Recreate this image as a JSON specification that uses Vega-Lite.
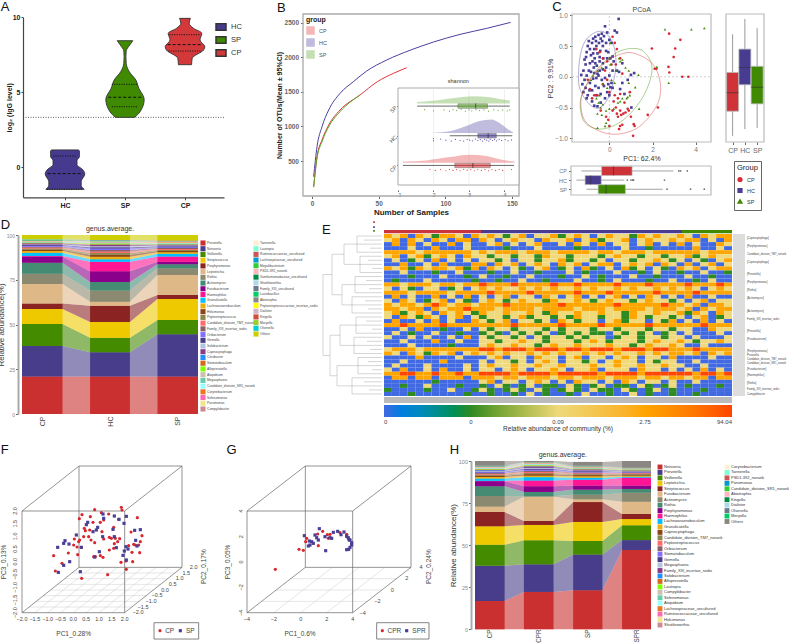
{"$schema":"https://vega.github.io/schema/vega-lite/v6.json","width":789,"height":643,"autosize":{"type":"none"},"padding":0,"background":"white",
"config":{"font":"Liberation Sans","view":{"stroke":null},"axis":{"grid":false,"labelFont":"Liberation Sans","titleFont":"Liberation Sans","domainColor":"#666","tickColor":"#666","labelColor":"#555","titleColor":"#333","tickSize":2.5,"labelFontSize":6.5,"titleFontSize":7.5,"titleFontWeight":"normal","labelPadding":2},"legend":{"labelFont":"Liberation Sans","titleFont":"Liberation Sans"}},
"resolve":{"scale":{"x":"independent","y":"independent","color":"independent","shape":"independent"},"axis":{"x":"independent","y":"independent"},"legend":{"color":"independent","shape":"independent"}},
"datasets":{
"curves":[{"g":"HC","x":1.25,"y":273},{"g":"HC","x":3.75,"y":707},{"g":"HC","x":7.5,"y":996},{"g":"HC","x":12.5,"y":1237},{"g":"HC","x":21,"y":1478},{"g":"HC","x":31,"y":1647},{"g":"HC","x":41,"y":1801},{"g":"HC","x":56,"y":1960},{"g":"HC","x":74,"y":2105},{"g":"HC","x":91,"y":2220},{"g":"HC","x":111,"y":2331},{"g":"HC","x":131,"y":2418},{"g":"HC","x":149,"y":2505},{"g":"CP","x":1.25,"y":129},{"g":"CP","x":3.75,"y":563},{"g":"CP","x":7.5,"y":804},{"g":"CP","x":12.5,"y":1020},{"g":"CP","x":21,"y":1237},{"g":"CP","x":36,"y":1454},{"g":"CP","x":49,"y":1647},{"g":"CP","x":61,"y":1767},{"g":"CP","x":71,"y":1849},{"g":"SP","x":1.25,"y":120},{"g":"SP","x":3.75,"y":539},{"g":"SP","x":7.5,"y":780},{"g":"SP","x":12.5,"y":996},{"g":"SP","x":21,"y":1213},{"g":"SP","x":29,"y":1358},{"g":"SP","x":36,"y":1454}],
"inbox":[{"g":"SP","y":2,"lo":1.54,"q1":2.69,"med":3.19,"q3":3.52,"hi":4.15},{"g":"HC","y":1,"lo":2.46,"q1":3.25,"med":3.54,"q3":3.77,"hi":4.22},{"g":"CP","y":0,"lo":1.14,"q1":2.6,"med":3.11,"q3":3.6,"hi":4.27}],
"pts":[{"g":"HC","x":-1.2,"y":0.1},{"g":"HC","x":-1.15,"y":0.28},{"g":"HC","x":-1.1,"y":0.2},{"g":"HC","x":-1.05,"y":0.4},{"g":"HC","x":-1,"y":0.5},{"g":"HC","x":-0.95,"y":0.58},{"g":"HC","x":-0.9,"y":0.45},{"g":"HC","x":-0.85,"y":0.35},{"g":"HC","x":-0.8,"y":0.55},{"g":"HC","x":-0.78,"y":0.25},{"g":"HC","x":-0.75,"y":0.62},{"g":"HC","x":-0.72,"y":0.15},{"g":"HC","x":-0.7,"y":0.45},{"g":"HC","x":-0.68,"y":0.3},{"g":"HC","x":-0.65,"y":0.65},{"g":"HC","x":-0.6,"y":0.5},{"g":"HC","x":-0.58,"y":0.18},{"g":"HC","x":-0.55,"y":0.38},{"g":"HC","x":-0.5,"y":0.68},{"g":"HC","x":-0.48,"y":0.55},{"g":"HC","x":-0.45,"y":0.25},{"g":"HC","x":-0.42,"y":0.42},{"g":"HC","x":-0.4,"y":0.62},{"g":"HC","x":-0.35,"y":0.7},{"g":"HC","x":-0.3,"y":0.5},{"g":"HC","x":-0.28,"y":0.3},{"g":"HC","x":-0.25,"y":0.66},{"g":"HC","x":-0.2,"y":0.82},{"g":"HC","x":-0.15,"y":0.55},{"g":"HC","x":-0.1,"y":0.72},{"g":"HC","x":-0.05,"y":0.4},{"g":"HC","x":0,"y":0.6},{"g":"HC","x":0.05,"y":0.3},{"g":"HC","x":0.1,"y":0.55},{"g":"HC","x":0.15,"y":0.1},{"g":"HC","x":0.25,"y":0.75},{"g":"HC","x":0.35,"y":0.72},{"g":"HC","x":0.43,"y":0.94},{"g":"HC","x":-1.3,"y":0.03},{"g":"HC","x":-1.25,"y":-0.12},{"g":"HC","x":-1.2,"y":-0.25},{"g":"HC","x":-1.15,"y":-0.05},{"g":"HC","x":-1.1,"y":-0.18},{"g":"HC","x":-1.05,"y":0.02},{"g":"HC","x":-1,"y":-0.3},{"g":"HC","x":-0.95,"y":0.1},{"g":"HC","x":-0.9,"y":-0.1},{"g":"HC","x":-0.85,"y":0.08},{"g":"HC","x":-0.8,"y":-0.22},{"g":"HC","x":-0.75,"y":-0.03},{"g":"HC","x":-0.7,"y":0.06},{"g":"HC","x":-0.65,"y":-0.15},{"g":"HC","x":-0.6,"y":-0.02},{"g":"HC","x":-0.55,"y":0.05},{"g":"HC","x":-0.5,"y":-0.18},{"g":"HC","x":-0.45,"y":0.1},{"g":"HC","x":-0.4,"y":-0.28},{"g":"HC","x":-0.35,"y":-0.05},{"g":"HC","x":-0.3,"y":0.12},{"g":"HC","x":-0.25,"y":-0.15},{"g":"HC","x":-0.2,"y":-0.02},{"g":"HC","x":-0.15,"y":0.15},{"g":"HC","x":-0.1,"y":-0.25},{"g":"HC","x":-0.05,"y":-0.12},{"g":"HC","x":0,"y":0.02},{"g":"HC","x":0.05,"y":-0.17},{"g":"HC","x":0.1,"y":-0.1},{"g":"HC","x":0.15,"y":-0.18},{"g":"HC","x":0.2,"y":0.25},{"g":"HC","x":0.35,"y":0.1},{"g":"HC","x":0.45,"y":0.08},{"g":"HC","x":0.5,"y":-0.2},{"g":"HC","x":0.6,"y":-0.1},{"g":"HC","x":1.15,"y":0.06},{"g":"HC","x":1,"y":0.03},{"g":"HC","x":0.85,"y":-0.05},{"g":"HC","x":-0.1,"y":0.3},{"g":"HC","x":-1.05,"y":-0.35},{"g":"HC","x":-0.8,"y":-0.4},{"g":"HC","x":-0.7,"y":-0.47},{"g":"HC","x":-0.55,"y":-0.48},{"g":"HC","x":-0.6,"y":-0.3},{"g":"HC","x":-0.4,"y":-0.42},{"g":"HC","x":-0.2,"y":-0.35},{"g":"HC","x":0,"y":-0.3},{"g":"HC","x":0.7,"y":-0.28},{"g":"HC","x":0.6,"y":0.22},{"g":"HC","x":1.02,"y":-0.5},{"g":"HC","x":0.15,"y":0.33},{"g":"HC","x":-0.9,"y":0.22},{"g":"HC","x":-0.65,"y":0.22},{"g":"HC","x":-0.45,"y":0.32},{"g":"HC","x":-0.75,"y":0.38},{"g":"HC","x":-1.08,"y":0.32},{"g":"HC","x":-0.5,"y":0.02},{"g":"HC","x":-0.92,"y":-0.22},{"g":"HC","x":-0.3,"y":0.22},{"g":"HC","x":-0.15,"y":0.42},{"g":"HC","x":-0.62,"y":0.58},{"g":"HC","x":-0.33,"y":0.58},{"g":"CP","x":2.77,"y":0.7},{"g":"CP","x":3.29,"y":0.6},{"g":"CP","x":3.05,"y":0.46},{"g":"CP","x":2.98,"y":0.32},{"g":"CP","x":1.97,"y":0.46},{"g":"CP","x":2.18,"y":0.13},{"g":"CP","x":2.1,"y":0.13},{"g":"CP","x":2.74,"y":0.16},{"g":"CP","x":2.78,"y":0.07},{"g":"CP","x":3.38,"y":0},{"g":"CP","x":3.66,"y":0},{"g":"CP","x":2.25,"y":-0.5},{"g":"CP","x":1.78,"y":-0.62},{"g":"CP","x":1.13,"y":-0.77},{"g":"CP","x":1.17,"y":-0.8},{"g":"CP","x":1.1,"y":-0.96},{"g":"CP","x":0.5,"y":-0.8},{"g":"CP","x":-1,"y":-0.05},{"g":"CP","x":-0.9,"y":-0.2},{"g":"CP","x":-0.8,"y":-0.35},{"g":"CP","x":-0.6,"y":0.45},{"g":"CP","x":-0.45,"y":0.4},{"g":"CP","x":-0.3,"y":0.3},{"g":"CP","x":-0.2,"y":0.1},{"g":"CP","x":-0.1,"y":-0.05},{"g":"CP","x":0,"y":-0.25},{"g":"CP","x":0.1,"y":0.2},{"g":"CP","x":0.15,"y":0.65},{"g":"CP","x":0.25,"y":0.55},{"g":"CP","x":0.35,"y":0.45},{"g":"CP","x":0.5,"y":0.3},{"g":"CP","x":0.6,"y":0.05},{"g":"CP","x":0.2,"y":-0.4},{"g":"CP","x":0.3,"y":-0.5},{"g":"CP","x":0.35,"y":-0.6},{"g":"CP","x":0.4,"y":-0.65},{"g":"CP","x":0.5,"y":-0.55},{"g":"CP","x":0.55,"y":-0.62},{"g":"CP","x":0.65,"y":-0.6},{"g":"CP","x":0.75,"y":-0.58},{"g":"CP","x":0.4,"y":-0.35},{"g":"CP","x":0.5,"y":-0.28},{"g":"CP","x":0.7,"y":-0.42},{"g":"CP","x":0.85,"y":-0.52},{"g":"CP","x":0.25,"y":-0.3},{"g":"CP","x":0.15,"y":-0.55},{"g":"CP","x":-0.05,"y":-0.7},{"g":"CP","x":-0.15,"y":-0.65},{"g":"CP","x":0,"y":-0.8},{"g":"CP","x":0.45,"y":-0.85},{"g":"CP","x":0.6,"y":-0.78},{"g":"CP","x":0.9,"y":-0.55},{"g":"CP","x":1,"y":-0.65},{"g":"CP","x":0.95,"y":-0.25},{"g":"CP","x":-0.55,"y":-0.3},{"g":"CP","x":-0.4,"y":-0.55},{"g":"CP","x":-0.7,"y":-0.3},{"g":"CP","x":-0.3,"y":-0.12},{"g":"CP","x":-0.1,"y":0.25},{"g":"CP","x":0.3,"y":0.2},{"g":"SP","x":2.58,"y":0.77},{"g":"SP","x":3.8,"y":0.77},{"g":"SP","x":4.4,"y":0.79},{"g":"SP","x":2.2,"y":0.16},{"g":"SP","x":2.75,"y":-0.1},{"g":"SP","x":1.35,"y":0.03},{"g":"SP","x":0.9,"y":0.1},{"g":"SP","x":1.2,"y":-0.17},{"g":"SP","x":0.95,"y":-0.3},{"g":"SP","x":0.8,"y":-0.35},{"g":"SP","x":1.38,"y":-0.52},{"g":"SP","x":-0.85,"y":-0.05},{"g":"SP","x":-0.75,"y":0.02},{"g":"SP","x":-0.55,"y":0.1},{"g":"SP","x":-0.35,"y":0.15},{"g":"SP","x":0.03,"y":0.55},{"g":"SP","x":0,"y":0.3},{"g":"SP","x":0.05,"y":0.2},{"g":"SP","x":0.3,"y":0.1},{"g":"SP","x":0.5,"y":0.25},{"g":"SP","x":0.6,"y":0.28},{"g":"SP","x":0.75,"y":0.15},{"g":"SP","x":-0.6,"y":-0.35},{"g":"SP","x":-0.5,"y":-0.42},{"g":"SP","x":-0.45,"y":-0.3},{"g":"SP","x":-0.4,"y":-0.5},{"g":"SP","x":-0.55,"y":-0.6},{"g":"SP","x":-0.3,"y":-0.45},{"g":"SP","x":-0.15,"y":-0.55},{"g":"SP","x":0,"y":-0.52},{"g":"SP","x":0.2,"y":-0.52},{"g":"SP","x":0.4,"y":-0.42},{"g":"SP","x":0.6,"y":-0.35},{"g":"SP","x":-0.1,"y":-0.18},{"g":"SP","x":-0.3,"y":-0.12},{"g":"SP","x":0.1,"y":-0.05},{"g":"SP","x":0.25,"y":-0.1},{"g":"SP","x":0.5,"y":-0.4},{"g":"SP","x":-0.35,"y":-0.62},{"g":"SP","x":-0.15,"y":-0.75},{"g":"SP","x":-0.55,"y":-0.83},{"g":"SP","x":-0.2,"y":-0.8},{"g":"SP","x":0.45,"y":0.3},{"g":"SP","x":0.9,"y":-0.1},{"g":"SP","x":0.85,"y":-0.33}],
"dd":[{"i":0,"g":"Prevotella","CP":21,"HC":21,"SP":21},{"i":1,"g":"Neisseria","CP":17,"HC":13.5,"SP":23.5},{"i":2,"g":"Veillonella","CP":12.3,"HC":8.1,"SP":8},{"i":3,"g":"Streptococcus","CP":8.4,"HC":8.8,"SP":11.7},{"i":4,"g":"Porphyromonas","CP":3.1,"HC":9.1,"SP":2.3},{"i":5,"g":"Leptotrichia","CP":10.8,"HC":2.2,"SP":11.1},{"i":6,"g":"Rothia","CP":5.8,"HC":6.3,"SP":3.8},{"i":7,"g":"Actinomyces","CP":6.1,"HC":4.8,"SP":2.2},{"i":8,"g":"Fusobacterium","CP":3.5,"HC":6,"SP":1.4},{"i":9,"g":"Haemophilus","CP":0.3,"HC":5.2,"SP":3},{"i":10,"g":"Granulicatella","CP":1.8,"HC":1.5,"SP":1.5},{"i":11,"g":"Lachnoanaerobaculum","CP":1,"HC":1.3,"SP":0.8},{"i":12,"g":"Helcimonas","CP":0.7,"HC":1.2,"SP":0.7},{"i":13,"g":"Peptostreptococcus","CP":0.6,"HC":0.9,"SP":0.6},{"i":14,"g":"Candidate_division_TM7_norank","CP":0.6,"HC":0.9,"SP":0.6},{"i":15,"g":"Family_XIII_incertae_sedis","CP":0.5,"HC":0.8,"SP":0.5},{"i":16,"g":"Oribacterium","CP":0.5,"HC":0.8,"SP":0.5},{"i":17,"g":"Gemella","CP":0.4,"HC":0.8,"SP":0.5},{"i":18,"g":"Solobacterium","CP":0.3,"HC":0.5,"SP":0.4},{"i":19,"g":"Capnocytophaga","CP":0.4,"HC":0.7,"SP":0.4},{"i":20,"g":"Citrobacter","CP":0.2,"HC":0.2,"SP":0.2},{"i":21,"g":"Stomatobaculum","CP":0.2,"HC":0.3,"SP":0.2},{"i":22,"g":"Alloprevotella","CP":0.2,"HC":0.3,"SP":0.2},{"i":23,"g":"Atopobium","CP":0.15,"HC":0.2,"SP":0.15},{"i":24,"g":"Megasphaera","CP":0.2,"HC":0.2,"SP":0.2},{"i":25,"g":"Candidate_division_SR1_norank","CP":0.2,"HC":0.2,"SP":0.15},{"i":26,"g":"Corynebacterium","CP":0.15,"HC":0.15,"SP":0.2},{"i":27,"g":"Selenomonas","CP":0.15,"HC":0.15,"SP":0.15},{"i":28,"g":"Parvimonas","CP":0.12,"HC":0.12,"SP":0.12},{"i":29,"g":"Campylobacter","CP":0.12,"HC":0.12,"SP":0.12},{"i":30,"g":"Tannerella","CP":0.05,"HC":0.05,"SP":0.05},{"i":31,"g":"Lautropia","CP":0.05,"HC":0.05,"SP":0.05},{"i":32,"g":"Ruminococcaceae_uncultured","CP":0.05,"HC":0.05,"SP":0.05},{"i":33,"g":"Lachnospiraceae_uncultured","CP":0.05,"HC":0.05,"SP":0.05},{"i":34,"g":"Megalibacterium","CP":0.05,"HC":0.05,"SP":0.05},{"i":35,"g":"PSD1-392_norank","CP":0.05,"HC":0.05,"SP":0.05},{"i":36,"g":"Xanthomonadaceae_uncultured","CP":0.05,"HC":0.05,"SP":0.05},{"i":37,"g":"Shuttleworthia","CP":0.05,"HC":0.05,"SP":0.05},{"i":38,"g":"Family_XIII_uncultured","CP":0.05,"HC":0.05,"SP":0.05},{"i":39,"g":"Lactobacillus","CP":0.05,"HC":0.05,"SP":0.05},{"i":40,"g":"Abiotrophia","CP":0.05,"HC":0.05,"SP":0.05},{"i":41,"g":"Peptostreptococcaceae_incertae_sedis","CP":0.05,"HC":0.05,"SP":0.05},{"i":42,"g":"Dialister","CP":0.05,"HC":0.05,"SP":0.05},{"i":43,"g":"Kingella","CP":0.05,"HC":0.05,"SP":0.05},{"i":44,"g":"Moryella","CP":0.05,"HC":0.05,"SP":0.05},{"i":45,"g":"Olsenella","CP":0.05,"HC":0.05,"SP":0.05},{"i":46,"g":"Others","CP":3,"HC":3,"SP":3}],
"hh":[{"i":0,"g":"Neisseria","CP":16.8,"CPR":22.2,"SP":23.2,"SPR":47.1},{"i":1,"g":"Prevotella","CP":21,"CPR":16.4,"SP":21.2,"SPR":5.9},{"i":2,"g":"Veillonella","CP":12.5,"CPR":14.3,"SP":8.1,"SPR":8.8},{"i":3,"g":"Leptotrichia","CP":10.9,"CPR":9.1,"SP":11.3,"SPR":3.7},{"i":4,"g":"Streptococcus","CP":8.5,"CPR":2.4,"SP":11.8,"SPR":3},{"i":5,"g":"Fusobacterium","CP":3.2,"CPR":14.4,"SP":1.6,"SPR":7.3},{"i":6,"g":"Actinomyces","CP":6.3,"CPR":0.2,"SP":2.8,"SPR":5.4},{"i":7,"g":"Rothia","CP":5.8,"CPR":2.6,"SP":3,"SPR":2.2},{"i":8,"g":"Porphyromonas","CP":3,"CPR":3.4,"SP":2.4,"SPR":2},{"i":9,"g":"Haemophilus","CP":0.2,"CPR":3.4,"SP":3.5,"SPR":4.7},{"i":10,"g":"Lachnoanaerobaculum","CP":1.4,"CPR":2,"SP":1.2,"SPR":0.6},{"i":11,"g":"Granulicatella","CP":0.9,"CPR":0.9,"SP":0.8,"SPR":0.6},{"i":12,"g":"Capnocytophaga","CP":0.8,"CPR":0.9,"SP":0.7,"SPR":0.6},{"i":13,"g":"Candidate_division_TM7_norank","CP":0.6,"CPR":0.6,"SP":0.6,"SPR":0.4},{"i":14,"g":"Peptostreptococcus","CP":0.5,"CPR":0.7,"SP":0.5,"SPR":0.4},{"i":15,"g":"Oribacterium","CP":0.5,"CPR":0.7,"SP":0.5,"SPR":0.35},{"i":16,"g":"Stomatobaculum","CP":0.4,"CPR":0.6,"SP":0.4,"SPR":0.3},{"i":17,"g":"Gemella","CP":0.4,"CPR":0.6,"SP":0.4,"SPR":0.3},{"i":18,"g":"Megasphaera","CP":0.4,"CPR":0.5,"SP":0.3,"SPR":0.25},{"i":19,"g":"Family_XIII_incertae_sedis","CP":0.3,"CPR":0.5,"SP":0.3,"SPR":0.25},{"i":20,"g":"Solobacterium","CP":0.3,"CPR":0.4,"SP":0.3,"SPR":0.2},{"i":21,"g":"Alloprevotella","CP":0.3,"CPR":0.4,"SP":0.3,"SPR":0.2},{"i":22,"g":"Lautropia","CP":0.2,"CPR":0.3,"SP":0.2,"SPR":0.2},{"i":23,"g":"Campylobacter","CP":0.2,"CPR":0.3,"SP":0.2,"SPR":0.15},{"i":24,"g":"Selenomonas","CP":0.2,"CPR":0.2,"SP":0.2,"SPR":0.15},{"i":25,"g":"Atopobium","CP":0.2,"CPR":0.2,"SP":0.15,"SPR":0.1},{"i":26,"g":"Lachnospiraceae_uncultured","CP":0.15,"CPR":0.2,"SP":0.15,"SPR":0.1},{"i":27,"g":"Ruminococcaceae_uncultured","CP":0.15,"CPR":0.15,"SP":0.15,"SPR":0.1},{"i":28,"g":"Helcimonas","CP":0.1,"CPR":0.15,"SP":0.1,"SPR":0.1},{"i":29,"g":"Shuttleworthia","CP":0.1,"CPR":0.1,"SP":0.1,"SPR":0.1},{"i":30,"g":"Corynebacterium","CP":0.1,"CPR":0.05,"SP":0.08,"SPR":0.05},{"i":31,"g":"Tannerella","CP":0.1,"CPR":0.05,"SP":0.08,"SPR":0.05},{"i":32,"g":"PSD1-392_norank","CP":0.1,"CPR":0.05,"SP":0.08,"SPR":0.05},{"i":33,"g":"Parvimonas","CP":0.1,"CPR":0.05,"SP":0.08,"SPR":0.05},{"i":34,"g":"Candidate_division_SR1_norank","CP":0.1,"CPR":0.05,"SP":0.08,"SPR":0.05},{"i":35,"g":"Abiotrophia","CP":0.1,"CPR":0.05,"SP":0.08,"SPR":0.05},{"i":36,"g":"Kingella","CP":0.1,"CPR":0.05,"SP":0.08,"SPR":0.05},{"i":37,"g":"Dialister","CP":0.1,"CPR":0.05,"SP":0.08,"SPR":0.05},{"i":38,"g":"Olsenella","CP":0.1,"CPR":0.05,"SP":0.08,"SPR":0.05},{"i":39,"g":"Moryella","CP":0.1,"CPR":0.05,"SP":0.08,"SPR":0.05},{"i":40,"g":"Others","CP":2.8,"CPR":1.05,"SP":2.2,"SPR":4.2}],
"heat":[{"r":0,"v":[3,2,3,0,3,2,1,3,3,2,0,3,2,3,2,1,2,3,0,2,2,3,1,2,3,2,0,2,3,2,2,1,3,2,3,2,2,3,2,0,3,2,3,3]},{"r":1,"v":[2,3,0,3,2,0,3,2,0,3,3,0,3,2,0,2,3,2,2,0,3,2,2,3,0,2,3,1,2,2,3,0,2,3,2,2,3,2,3,3,0,2,0,3]},{"r":2,"v":[0,3,0,3,0,2,0,0,3,0,2,0,0,2,3,0,2,0,2,3,0,0,2,0,3,2,0,3,0,2,2,0,2,3,0,2,0,3,0,2,0,0,3,2]},{"r":3,"v":[0,0,0,2,0,0,3,0,0,0,2,0,0,0,0,1,0,0,0,2,0,0,0,0,1,0,0,0,0,0,2,0,0,1,0,0,0,0,0,3,0,0,2,0]},{"r":4,"v":[3,3,3,3,2,3,3,3,3,3,3,2,3,2,3,3,3,2,3,3,3,2,3,3,3,3,2,3,3,2,3,3,3,2,3,3,3,3,3,3,2,3,3,3]},{"r":5,"v":[2,3,0,2,3,1,2,3,2,0,3,2,2,1,2,2,1,2,2,1,3,2,2,1,2,2,2,1,2,3,2,2,1,2,2,1,2,2,3,1,2,3,2,2]},{"r":6,"v":[0,2,0,1,2,0,3,0,2,0,2,0,2,2,1,2,0,2,2,1,2,2,3,1,2,2,1,2,0,2,2,1,2,2,3,2,1,2,0,2,1,0,2,3]},{"r":7,"v":[0,0,3,0,0,2,0,3,0,0,0,3,3,0,3,2,3,0,2,3,2,0,3,2,3,0,2,3,3,0,2,3,2,3,0,3,2,0,3,0,2,3,0,2]},{"r":8,"v":[3,2,3,1,3,2,3,3,2,3,1,3,0,3,2,0,2,1,0,2,3,0,1,2,0,3,1,0,2,0,3,1,2,0,2,1,0,3,2,3,0,2,3,3]},{"r":9,"v":[0,0,2,0,0,0,1,0,0,2,0,0,0,1,0,0,2,0,0,1,0,0,0,2,0,1,0,0,0,2,0,0,1,0,2,0,0,1,0,0,2,0,0,1]},{"r":10,"v":[0,0,0,1,0,0,0,2,0,0,1,0,2,0,0,1,0,0,2,0,0,0,1,0,0,2,0,1,0,0,0,2,0,0,1,0,0,0,2,0,0,1,0,0]},{"r":11,"v":[0,1,0,0,0,2,0,0,0,0,0,1,0,0,1,0,0,2,0,0,1,0,0,0,2,0,0,1,0,2,0,0,0,1,0,0,2,0,0,1,0,2,0,0]},{"r":12,"v":[3,3,2,3,3,3,2,3,3,2,3,3,4,3,3,3,4,3,3,3,3,4,3,3,4,3,3,3,3,4,3,3,3,4,3,3,3,3,4,3,3,3,4,3]},{"r":13,"v":[2,0,2,1,0,2,2,0,1,2,0,2,3,2,3,2,2,3,2,3,2,3,2,2,3,2,3,2,2,3,2,3,2,2,3,2,3,2,3,2,0,2,3,2]},{"r":14,"v":[3,3,3,2,3,3,3,3,2,3,3,3,3,4,3,3,3,3,4,3,3,3,3,3,4,3,3,3,4,3,3,3,3,3,4,3,3,3,3,4,3,3,3,3]},{"r":15,"v":[0,3,0,2,0,0,3,0,2,0,3,0,2,0,2,3,0,2,2,0,3,2,0,2,3,0,2,0,2,3,0,2,0,3,2,0,2,0,3,0,0,2,0,0]},{"r":16,"v":[2,0,3,2,0,1,2,3,0,2,1,0,2,3,2,1,2,3,2,2,1,3,2,2,3,2,1,2,3,2,2,1,2,3,2,2,1,2,0,2,3,0,2,2]},{"r":17,"v":[3,2,3,3,2,3,4,3,2,3,3,2,3,3,3,4,3,3,3,3,3,3,4,3,3,3,3,3,3,4,3,3,3,3,3,4,3,3,2,3,0,3,3,2]},{"r":18,"v":[3,3,2,3,3,0,3,2,3,3,4,3,3,3,2,3,3,3,3,2,3,3,3,3,2,3,3,3,2,3,3,3,3,2,3,3,3,2,3,0,3,2,3,3]},{"r":19,"v":[2,3,1,2,3,2,0,3,2,3,2,1,3,2,2,3,2,2,3,2,1,3,2,2,3,2,2,3,2,2,1,3,2,2,3,2,2,3,1,3,2,0,3,2]},{"r":20,"v":[2,0,3,2,1,3,2,0,2,3,0,2,1,2,2,1,2,3,1,2,2,1,2,1,3,2,2,1,2,2,1,3,2,1,2,2,1,2,0,2,3,0,1,2]},{"r":21,"v":[0,3,0,0,2,0,3,0,2,0,0,3,2,1,2,3,0,2,2,1,2,0,3,2,1,2,2,0,2,3,1,2,2,0,2,1,3,0,2,0,3,0,2,0]},{"r":22,"v":[3,3,4,3,3,3,3,4,3,3,3,3,3,3,3,3,4,3,3,3,3,3,4,3,3,3,3,4,3,3,3,3,3,4,3,3,3,3,3,3,4,3,3,3]},{"r":23,"v":[0,0,2,0,3,0,0,1,0,0,2,0,2,1,2,2,1,2,2,2,1,2,1,2,2,2,1,2,2,1,2,2,2,1,2,2,1,2,2,0,0,3,2,2]},{"r":24,"v":[0,2,0,1,0,0,2,0,0,1,0,0,1,2,1,0,2,1,2,1,2,0,1,2,1,2,1,1,0,2,1,2,1,2,0,1,2,0,2,0,0,0,2,0]},{"r":25,"v":[2,0,0,2,0,2,0,0,2,0,3,0,2,1,2,2,1,2,0,2,1,2,2,1,2,1,2,2,0,1,2,2,1,2,2,1,2,2,0,2,0,0,0,2]},{"r":26,"v":[0,0,2,0,0,0,3,0,0,2,0,0,2,2,1,2,2,3,2,2,1,2,2,2,1,2,3,2,1,2,2,2,1,2,3,2,2,3,2,1,2,2,3,2]},{"r":27,"v":[0,0,0,2,0,0,0,0,1,0,0,0,2,3,2,2,3,2,2,1,2,3,2,2,3,2,2,2,3,2,2,1,2,3,2,2,3,2,0,0,2,0,0,0]},{"r":28,"v":[2,3,3,3,2,3,3,3,3,3,3,3,4,4,3,4,4,4,3,4,4,4,3,4,4,3,4,4,4,3,4,4,4,3,4,4,3,3,3,4,3,3,3,3]},{"r":29,"v":[3,2,0,3,2,1,3,2,3,0,2,3,2,3,2,3,2,2,3,2,3,2,3,2,2,3,2,3,2,3,2,2,3,2,3,2,3,3,2,3,0,3,2,3]},{"r":30,"v":[0,0,0,0,3,0,0,0,0,2,0,0,0,2,3,0,2,2,0,3,2,2,0,2,3,0,2,2,0,2,3,2,0,2,2,0,3,0,0,0,0,2,0,0]},{"r":31,"v":[0,0,2,0,0,0,0,3,0,0,0,0,2,0,2,2,1,2,0,2,3,2,0,2,2,1,2,0,2,3,2,2,0,2,1,2,2,0,0,2,0,0,0,0]},{"r":32,"v":[0,2,0,0,0,2,0,0,0,0,2,0,2,3,2,2,3,2,2,3,2,2,3,2,2,2,3,2,2,3,2,2,3,2,2,3,2,2,0,0,2,0,0,0]},{"r":33,"v":[2,0,3,0,0,2,0,3,0,0,2,0,2,2,0,2,3,2,0,2,2,3,2,0,2,2,3,0,2,2,2,0,3,2,2,0,2,0,2,0,3,0,2,0]},{"r":34,"v":[3,3,4,4,3,3,4,3,3,4,3,3,4,4,4,4,3,4,4,4,4,3,4,4,4,4,4,3,4,4,4,4,3,4,4,4,4,4,4,3,4,4,3,4]},{"r":35,"v":[0,3,3,0,3,3,0,3,3,3,0,3,3,3,2,3,3,2,3,3,3,2,3,3,2,3,3,3,2,3,3,3,2,3,3,2,3,3,2,3,3,0,3,3]},{"r":36,"v":[0,0,0,0,0,0,1,0,0,0,0,0,2,3,0,2,2,0,2,3,2,0,2,0,3,2,2,0,2,0,3,2,0,2,2,0,2,0,0,2,0,0,0,0]},{"r":37,"v":[0,0,1,0,0,2,0,0,0,1,0,0,1,0,2,1,0,1,2,0,1,1,0,2,1,0,1,2,0,1,1,0,2,1,0,1,2,0,1,0,0,0,1,0]},{"r":38,"v":[1,0,0,0,0,1,0,0,2,0,0,1,2,1,0,1,2,1,0,2,1,0,1,2,1,0,2,1,1,0,2,1,0,1,2,0,1,0,0,0,1,0,0,0]},{"r":39,"v":[0,0,0,1,0,0,0,0,0,0,1,0,0,1,0,0,1,0,2,0,1,0,0,1,0,2,0,0,1,0,0,2,0,1,0,0,1,0,0,1,0,0,0,0]}]
},
"layer":[
{"encoding":{"x":{"field":"x","type":"quantitative","scale":{"domain":[-0.7,2.65],"range":[23,224],"nice":false},"axis":{"orient":"bottom","offset":-445.7,"values":[0,1,2],"labelExpr":"datum.value==0?'HC':datum.value==1?'SP':'CP'","title":null,"labelFontWeight":"bold","labelColor":"#222","labelFontSize":7,"domainColor":"#444","domainWidth":1.2,"tickColor":"#444"}},"y":{"field":"y","type":"quantitative","scale":{"domain":[-2,10],"range":[197.3,17.3],"nice":false},"axis":{"orient":"left","offset":-23,"values":[0,5,10],"title":"log₂ (IgG level)","titleFontWeight":"bold","titleFontSize":7,"titleColor":"#222","titlePadding":0,"tickSize":2,"labelPadding":1,"labelFontWeight":"bold","labelColor":"#222","labelFontSize":7,"domainColor":"#444","domainWidth":1.2,"tickColor":"#444"}}},
"layer":[
{"data":{"values":[{"x":-0.7,"x2":2.65,"y":3.33}]},"mark":{"type":"rule","strokeDash":[1,1.5],"strokeWidth":0.8,"color":"#333"},"encoding":{"x2":{"field":"x2"}}},
{"data":{"values":[{"g":"HC","y":-1.47,"x":-0.32,"x2":0.32},{"g":"HC","y":-1.2,"x":-0.27,"x2":0.27},{"g":"HC","y":-0.96,"x":-0.27,"x2":0.27},{"g":"HC","y":-0.44,"x":-0.33,"x2":0.33},{"g":"HC","y":-0.1,"x":-0.28,"x2":0.28},{"g":"HC","y":0.16,"x":-0.2,"x2":0.2},{"g":"HC","y":0.45,"x":-0.2,"x2":0.2},{"g":"HC","y":0.71,"x":-0.24,"x2":0.24},{"g":"HC","y":1.1,"x":-0.24,"x2":0.24},{"g":"HC","y":1.16,"x":-0.22,"x2":0.22},{"g":"SP","y":3.33,"x":0.84,"x2":1.16},{"g":"SP","y":3.7,"x":0.75,"x2":1.25},{"g":"SP","y":4.53,"x":0.68,"x2":1.32},{"g":"SP","y":5.27,"x":0.77,"x2":1.23},{"g":"SP","y":5.82,"x":0.82,"x2":1.18},{"g":"SP","y":6.38,"x":0.93,"x2":1.07},{"g":"SP","y":6.93,"x":0.98,"x2":1.02},{"g":"SP","y":7.38,"x":0.985,"x2":1.015},{"g":"SP","y":7.76,"x":0.98,"x2":1.02},{"g":"SP","y":8.16,"x":0.92,"x2":1.08},{"g":"SP","y":8.44,"x":0.87,"x2":1.13},{"g":"CP","y":6.84,"x":1.89,"x2":2.11},{"g":"CP","y":7.27,"x":1.88,"x2":2.12},{"g":"CP","y":7.82,"x":1.69,"x2":2.31},{"g":"CP","y":8.04,"x":1.67,"x2":2.33},{"g":"CP","y":8.49,"x":1.75,"x2":2.25},{"g":"CP","y":8.93,"x":1.72,"x2":2.28},{"g":"CP","y":9.27,"x":1.86,"x2":2.14},{"g":"CP","y":9.6,"x":1.93,"x2":2.07},{"g":"CP","y":9.93,"x":1.91,"x2":2.09}]},"mark":{"type":"area","orient":"horizontal","interpolate":"monotone","stroke":"#333","strokeWidth":0.9},"encoding":{"x2":{"field":"x2"},"color":{"field":"g","type":"nominal","scale":{"domain":["HC","SP","CP"],"range":["#463A8E","#3F8A00","#D3393B"]},"legend":{"orient":"none","legendX":215,"legendY":21,"title":null,"symbolType":"M-1,-0.65H1V0.65H-1Z","symbolSize":100,"labelFontSize":7.5,"labelColor":"#333","rowPadding":-1.5,"labelOffset":4}}}},
{"data":{"values":[{"x":-0.29,"x2":0.29,"y":-0.42},{"x":0.72,"x2":1.28,"y":4.67},{"x":1.71,"x2":2.29,"y":8.18}]},"mark":{"type":"rule","strokeDash":[3,2],"strokeWidth":1,"color":"#111"},"encoding":{"x2":{"field":"x2"}}},
{"data":{"values":[{"x":-0.3,"x2":0.3,"y":-1.47},{"x":-0.2,"x2":0.2,"y":0.75},{"x":0.78,"x2":1.22,"y":4.04},{"x":0.78,"x2":1.22,"y":5.53},{"x":1.72,"x2":2.28,"y":7.75},{"x":1.74,"x2":2.26,"y":8.84}]},"mark":{"type":"rule","strokeDash":[1.2,1.2],"strokeWidth":0.9,"color":"#111"},"encoding":{"x2":{"field":"x2"}}}
]},
{"encoding":{"x":{"field":"x","type":"quantitative","scale":{"domain":[-6.75,155.25],"range":[303,519],"nice":false},"axis":{"orient":"bottom","offset":-447,"values":[0,50,100,150],"title":"Number of Samples","titleFontWeight":"bold","titleColor":"#222","titleFontSize":8,"titlePadding":1,"labelFontWeight":"bold","labelColor":"#666","domain":false}},"y":{"field":"y","type":"quantitative","scale":{"domain":[-6,2626],"range":[196,14],"nice":false},"axis":{"orient":"left","offset":-303,"values":[500,1000,1500,2000,2500],"format":"d","title":"Number of OTUs(Mean ± 95%CI)","titleFontWeight":"bold","titleColor":"#222","titleFontSize":7,"titlePadding":2,"labelFontWeight":"bold","labelColor":"#666","domain":false}},"color":{"field":"g","type":"nominal","scale":{"domain":["CP","HC","SP"],"range":["#E0353A","#4B3FA0","#5BA52B"]},"legend":null}},
"layer":[
{"data":{"values":[{"x":-6.75,"x2":155.25,"y":-6,"y2":2626}]},"mark":{"type":"rect","fill":"transparent","stroke":"#aaa","strokeWidth":1.3},"encoding":{"x2":{"field":"x2"},"y2":{"field":"y2"},"color":{"value":"transparent"}}},
{"data":{"name":"curves"},"mark":{"type":"area","opacity":0.35,"orient":"vertical"},"encoding":{"y2":{"field":"y"},"color":{"field":"g","type":"nominal","legend":{"orient":"none","legendX":306,"legendY":16,"title":"group","titleFontSize":7,"titleFontWeight":"bold","titleColor":"#222","symbolType":"square","symbolSize":50,"labelFontSize":5.5,"labelColor":"#555","rowPadding":-6,"titlePadding":3}}}},
{"data":{"name":"curves"},"mark":{"type":"line","interpolate":"monotone","strokeWidth":1}}
]},
{"encoding":{"x":{"field":"x","type":"quantitative","scale":{"domain":[1,4.41],"range":[398,519],"nice":false},"axis":{"orient":"bottom","offset":-453,"values":[1,2,3,4],"title":null,"labelFontSize":5.5,"domain":false,"tickSize":1.5,"labelPadding":1}},"y":{"field":"y","type":"quantitative","scale":{"domain":[-0.66,2.61],"range":[190,83],"nice":false},"axis":{"orient":"left","offset":-398,"values":[0,1,2],"labelExpr":"datum.value==0?'CP':datum.value==1?'HC':'SP'","labelAngle":-45,"title":null,"labelFontSize":5.5,"domain":false,"tickSize":1.5,"labelPadding":1}},"color":{"field":"g","type":"nominal","scale":{"domain":["CP","HC","SP"],"range":["#E0353A","#4B3FA0","#5BA52B"]},"legend":null}},
"layer":[
{"data":{"values":[{"x":1,"x2":4.41,"y":-0.66,"y2":2.61}]},"mark":{"type":"rect","fill":"white","stroke":"#aaa","strokeWidth":1},"encoding":{"x2":{"field":"x2"},"y2":{"field":"y2"},"color":{"value":"white"}}},
{"data":{"values":[{"x":2,"y":-0.66,"y2":2.61},{"x":3,"y":-0.66,"y2":2.61},{"x":4,"y":-0.66,"y2":2.61}]},"mark":{"type":"rule","color":"#e4e4e4","strokeWidth":0.6},"encoding":{"y2":{"field":"y2"},"color":{"value":"#e4e4e4"}}},
{"data":{"values":[{"g":"SP","x":1.54,"y":2.14,"y2":2.09},{"g":"SP","x":2.08,"y":2.19,"y2":2.09},{"g":"SP","x":2.64,"y":2.28,"y2":2.09},{"g":"SP","x":3.11,"y":2.33,"y2":2.09},{"g":"SP","x":3.58,"y":2.3,"y2":2.09},{"g":"SP","x":3.86,"y":2.24,"y2":2.09},{"g":"SP","x":4.15,"y":2.19,"y2":2.09},{"g":"HC","x":1.99,"y":1.1,"y2":1.09},{"g":"HC","x":2.46,"y":1.15,"y2":1.09},{"g":"HC","x":2.92,"y":1.33,"y2":1.09},{"g":"HC","x":3.3,"y":1.5,"y2":1.09},{"g":"HC","x":3.63,"y":1.55,"y2":1.09},{"g":"HC","x":3.86,"y":1.43,"y2":1.09},{"g":"HC","x":4.1,"y":1.22,"y2":1.09},{"g":"HC","x":4.24,"y":1.12,"y2":1.09},{"g":"CP","x":1.14,"y":0.13,"y2":0.09},{"g":"CP","x":1.8,"y":0.17,"y2":0.09},{"g":"CP","x":2.46,"y":0.28,"y2":0.09},{"g":"CP","x":3.02,"y":0.36,"y2":0.09},{"g":"CP","x":3.49,"y":0.32,"y2":0.09},{"g":"CP","x":3.86,"y":0.21,"y2":0.09},{"g":"CP","x":4.29,"y":0.12,"y2":0.09}]},"mark":{"type":"area","orient":"vertical","opacity":0.35,"interpolate":"monotone"},"encoding":{"y2":{"field":"y2"}}},
{"data":{"name":"inbox"},"mark":{"type":"rule","strokeWidth":0.8,"color":"#444"},"encoding":{"x":{"field":"lo","type":"quantitative"},"x2":{"field":"hi"},"color":{"value":"#444"}}},
{"data":{"name":"inbox"},"mark":{"type":"bar","orient":"horizontal","size":4.5,"stroke":"#333","strokeWidth":0.6,"opacity":0.6},"encoding":{"x":{"field":"q1","type":"quantitative"},"x2":{"field":"q3"}}},
{"data":{"name":"inbox"},"mark":{"type":"tick","orient":"vertical","size":5,"thickness":0.9,"color":"#222"},"encoding":{"x":{"field":"med","type":"quantitative"},"color":{"value":"#222"}}},
{"data":{"values":[{"g":"SP","x":1.75,"y":1.88},{"g":"SP","x":2,"y":1.84},{"g":"SP","x":2.3,"y":1.87},{"g":"SP","x":2.45,"y":1.83},{"g":"SP","x":2.55,"y":1.88},{"g":"SP","x":2.65,"y":1.85},{"g":"SP","x":2.78,"y":1.89},{"g":"SP","x":2.9,"y":1.83},{"g":"SP","x":3,"y":1.87},{"g":"SP","x":3.08,"y":1.84},{"g":"SP","x":3.2,"y":1.88},{"g":"SP","x":3.3,"y":1.85},{"g":"SP","x":3.42,"y":1.87},{"g":"SP","x":3.55,"y":1.83},{"g":"SP","x":3.7,"y":1.88},{"g":"SP","x":3.82,"y":1.85},{"g":"SP","x":3.95,"y":1.87},{"g":"SP","x":4.08,"y":1.84},{"g":"SP","x":4.15,"y":1.87},{"g":"HC","x":2,"y":0.9},{"g":"HC","x":2,"y":0.83},{"g":"HC","x":2.2,"y":0.89},{"g":"HC","x":2.35,"y":0.85},{"g":"HC","x":2.5,"y":0.82},{"g":"HC","x":2.62,"y":0.88},{"g":"HC","x":2.75,"y":0.84},{"g":"HC","x":2.85,"y":0.82},{"g":"HC","x":2.95,"y":0.88},{"g":"HC","x":3.02,"y":0.85},{"g":"HC","x":3.1,"y":0.83},{"g":"HC","x":3.18,"y":0.89},{"g":"HC","x":3.25,"y":0.84},{"g":"HC","x":3.32,"y":0.87},{"g":"HC","x":3.38,"y":0.82},{"g":"HC","x":3.44,"y":0.88},{"g":"HC","x":3.5,"y":0.85},{"g":"HC","x":3.56,"y":0.82},{"g":"HC","x":3.6,"y":0.88},{"g":"HC","x":3.66,"y":0.84},{"g":"HC","x":3.72,"y":0.87},{"g":"HC","x":3.78,"y":0.83},{"g":"HC","x":3.85,"y":0.88},{"g":"HC","x":3.92,"y":0.84},{"g":"HC","x":4.02,"y":0.87},{"g":"HC","x":4.1,"y":0.83},{"g":"HC","x":4.2,"y":0.86},{"g":"CP","x":1.9,"y":-0.13},{"g":"CP","x":2.05,"y":-0.17},{"g":"CP","x":2.2,"y":-0.14},{"g":"CP","x":2.35,"y":-0.18},{"g":"CP","x":2.45,"y":-0.13},{"g":"CP","x":2.55,"y":-0.17},{"g":"CP","x":2.65,"y":-0.14},{"g":"CP","x":2.75,"y":-0.18},{"g":"CP","x":2.85,"y":-0.13},{"g":"CP","x":2.95,"y":-0.16},{"g":"CP","x":3.05,"y":-0.13},{"g":"CP","x":3.15,"y":-0.18},{"g":"CP","x":3.25,"y":-0.14},{"g":"CP","x":3.35,"y":-0.17},{"g":"CP","x":3.45,"y":-0.13},{"g":"CP","x":3.55,"y":-0.18},{"g":"CP","x":3.65,"y":-0.14},{"g":"CP","x":3.75,"y":-0.17},{"g":"CP","x":3.85,"y":-0.13},{"g":"CP","x":3.95,"y":-0.17},{"g":"CP","x":4.2,"y":-0.14}]},"mark":{"type":"point","filled":true,"size":1.5,"opacity":0.9}},
{"data":{"values":[{"x":2.7,"y":2.83,"t":"shannon"}]},"mark":{"type":"text","fontSize":5.5,"color":"#333"},"encoding":{"text":{"field":"t"},"color":{"value":"#333"}}}
]},
{"encoding":{"x":{"field":"x","type":"quantitative","scale":{"domain":[-1.73,4.71],"range":[572,711],"nice":false},"axis":{"orient":"bottom","offset":-501,"values":[0,2,4],"title":"PC1: 62.4%","titlePadding":1,"titleFontSize":7,"labelColor":"#777","domain":false}},"y":{"field":"y","type":"quantitative","scale":{"domain":[-1.06,1.02],"range":[142,14],"nice":false},"axis":{"orient":"left","offset":-572,"values":[-1,-0.5,0,0.5,1],"format":".1f","title":"PC2 : 9.91%","titlePadding":1,"titleFontSize":7,"labelColor":"#777","domain":false}}},
"layer":[
{"data":{"values":[{"x":-1.73,"x2":4.71,"y":-1.06,"y2":1.02}]},"mark":{"type":"rect","fill":"transparent","stroke":"#bbb","strokeWidth":1.2},"encoding":{"x2":{"field":"x2"},"y2":{"field":"y2"}}},
{"data":{"values":[{"x":-1.73,"x2":4.71,"y":0}]},"mark":{"type":"rule","strokeDash":[2,2],"color":"#bbb","strokeWidth":0.7},"encoding":{"x2":{"field":"x2"}}},
{"data":{"values":[{"x":0,"y":-1.06,"y2":1.02}]},"mark":{"type":"rule","strokeDash":[2,2],"color":"#bbb","strokeWidth":0.7},"encoding":{"y2":{"field":"y2"}}},
{"data":{"name":"pts"},"mark":{"type":"point","filled":true,"size":7,"opacity":1},"encoding":{"color":{"field":"g","type":"nominal","scale":{"domain":["CP","HC","SP"],"range":["#D62B35","#4A3F97","#3F8A00"]},"legend":{"orient":"none","legendX":734,"legendY":161,"title":"Group","titleFontSize":7.5,"titleFontWeight":"normal","titleColor":"#222","labelFontSize":5.5,"labelColor":"#333","symbolSize":14,"strokeColor":"#666","padding":3,"rowPadding":1}},"shape":{"field":"g","type":"nominal","scale":{"domain":["CP","HC","SP"],"range":["circle","square","triangle-up"]},"legend":{"orient":"none","legendX":734,"legendY":161,"title":"Group","titleFontSize":7.5,"titleFontWeight":"normal","titleColor":"#222","labelFontSize":5.5,"labelColor":"#333","symbolSize":14,"strokeColor":"#666","padding":3,"rowPadding":1}}}},
{"data":{"values":[{"g":"HC","i":0,"x":-1.43,"y":0.01},{"g":"HC","i":1,"x":-1.35,"y":0.34},{"g":"HC","i":2,"x":-1.12,"y":0.58},{"g":"HC","i":3,"x":-0.66,"y":0.72},{"g":"HC","i":4,"x":-0.2,"y":0.72},{"g":"HC","i":5,"x":0.18,"y":0.53},{"g":"HC","i":6,"x":0.31,"y":0.23},{"g":"HC","i":7,"x":0.18,"y":-0.1},{"g":"HC","i":8,"x":-0.09,"y":-0.37},{"g":"HC","i":9,"x":-0.51,"y":-0.51},{"g":"HC","i":10,"x":-0.97,"y":-0.43},{"g":"HC","i":11,"x":-1.35,"y":-0.21},{"g":"SP","i":0,"x":-1.35,"y":-0.48},{"g":"SP","i":1,"x":-1.12,"y":-0.75},{"g":"SP","i":2,"x":-0.35,"y":-0.85},{"g":"SP","i":3,"x":0.65,"y":-0.7},{"g":"SP","i":4,"x":1.57,"y":-0.32},{"g":"SP","i":5,"x":1.98,"y":0.12},{"g":"SP","i":6,"x":1.65,"y":0.39},{"g":"SP","i":7,"x":1.11,"y":0.46},{"g":"SP","i":8,"x":0.34,"y":0.39},{"g":"SP","i":9,"x":-0.58,"y":0.12},{"g":"SP","i":10,"x":-1.2,"y":-0.23},{"g":"CP","i":0,"x":-1.32,"y":-0.43},{"g":"CP","i":1,"x":-1.05,"y":-0.75},{"g":"CP","i":2,"x":0.03,"y":-0.93},{"g":"CP","i":3,"x":1.26,"y":-0.84},{"g":"CP","i":4,"x":2.18,"y":-0.48},{"g":"CP","i":5,"x":2.37,"y":-0.13},{"g":"CP","i":6,"x":2.03,"y":0.2},{"g":"CP","i":7,"x":1.26,"y":0.37},{"g":"CP","i":8,"x":0.65,"y":0.38},{"g":"CP","i":9,"x":-0.2,"y":0.23},{"g":"CP","i":10,"x":-1.05,"y":-0.13}]},"mark":{"type":"line","interpolate":"cardinal-closed","strokeWidth":0.7,"opacity":0.6},"encoding":{"order":{"field":"i"},"color":{"field":"g","type":"nominal"}}},
{"data":{"values":[{"x":1.5,"y":1.09,"t":"PCoA"}]},"mark":{"type":"text","fontSize":7,"color":"#444"},"encoding":{"text":{"field":"t"}}}
]},
{"encoding":{"x":{"field":"u","type":"quantitative","scale":{"domain":[-0.54,2.56],"range":[721,769],"nice":false},"axis":{"orient":"bottom","offset":-501,"values":[0,1,2],"labelExpr":"datum.value==0?'CP':datum.value==1?'HC':'SP'","title":null,"labelFontSize":7,"labelColor":"#666","domain":false}},"y":{"field":"lo","type":"quantitative","scale":{"domain":[-1.06,1.02],"range":[142,14],"nice":false},"axis":null},"color":{"field":"g","type":"nominal","scale":{"domain":["CP","HC","SP"],"range":["#CF3338","#483C90","#3F8A00"]},"legend":null}},"data":{"values":[{"g":"CP","u":0,"lo":-0.96,"q1":-0.56,"med":-0.26,"q3":0.07,"hi":0.69},{"g":"HC","u":1,"lo":-0.85,"q1":-0.13,"med":0.15,"q3":0.45,"hi":0.94},{"g":"SP","u":2,"lo":-0.83,"q1":-0.44,"med":-0.17,"q3":0.17,"hi":0.79}]},
"layer":[
{"mark":{"type":"rect","fill":"transparent","stroke":"#bbb","strokeWidth":1.2},"data":{"values":[{"u":-0.54,"u2":2.56,"lo":-1.06,"lo2":1.02}]},"encoding":{"x2":{"field":"u2"},"y2":{"field":"lo2"},"color":{"value":"transparent"}}},
{"mark":{"type":"rule","strokeWidth":1,"color":"#999"},"encoding":{"y2":{"field":"hi"},"color":{"value":"#999"}}},
{"mark":{"type":"bar","orient":"vertical","size":12,"stroke":"#bbb","strokeWidth":0.8},"encoding":{"y":{"field":"q1","type":"quantitative"},"y2":{"field":"q3"}}},
{"mark":{"type":"tick","orient":"horizontal","size":12,"thickness":0.9},"encoding":{"y":{"field":"med","type":"quantitative"},"color":{"value":"#333"}}}
]},
{"encoding":{"x":{"field":"lo","type":"quantitative","scale":{"domain":[-1.73,4.71],"range":[571,711],"nice":false},"axis":null},"y":{"field":"u","type":"quantitative","scale":{"domain":[-0.54,2.63],"range":[161,200],"nice":false},"axis":{"orient":"left","offset":-571,"values":[0,1,2],"labelExpr":"datum.value==0?'CP':datum.value==1?'HC':'SP'","title":null,"labelFontSize":5.5,"labelColor":"#777","domain":false}},"color":{"field":"g","type":"nominal","scale":{"domain":["CP","HC","SP"],"range":["#CF3338","#483C90","#3F8A00"]},"legend":null}},"data":{"values":[{"g":"CP","u":0,"lo":-1.25,"q1":-0.32,"med":0.23,"q3":1.08,"hi":2.98},{"g":"HC","u":1,"lo":-1.48,"q1":-1.08,"med":-0.82,"q3":-0.34,"hi":0.72},{"g":"SP","u":2,"lo":-1.02,"q1":-0.48,"med":-0.12,"q3":0.77,"hi":2.49}]},
"layer":[
{"mark":{"type":"rect","fill":"transparent","stroke":"#bbb","strokeWidth":1.2},"data":{"values":[{"lo":-1.73,"lo2":4.71,"u":-0.54,"u2":2.63}]},"encoding":{"x2":{"field":"lo2"},"y2":{"field":"u2"},"color":{"value":"transparent"}}},
{"mark":{"type":"rule","strokeWidth":0.9,"color":"#999"},"encoding":{"x2":{"field":"hi"},"color":{"value":"#999"}}},
{"mark":{"type":"bar","orient":"horizontal","size":9,"stroke":"#bbb","strokeWidth":0.6},"encoding":{"x":{"field":"q1","type":"quantitative"},"x2":{"field":"q3"}}},
{"mark":{"type":"tick","orient":"vertical","size":9,"thickness":0.9},"encoding":{"x":{"field":"med","type":"quantitative"},"color":{"value":"#333"}}},
{"data":{"values":[{"lo":3.23,"u":0},{"lo":3.31,"u":0},{"lo":3.62,"u":0},{"lo":0.86,"u":1},{"lo":1.03,"u":1},{"lo":1.11,"u":1},{"lo":1.15,"u":1},{"lo":2.57,"u":1},{"lo":2.69,"u":2},{"lo":3.77,"u":2},{"lo":4.4,"u":2}]},"mark":{"type":"point","filled":true,"size":3},"encoding":{"color":{"value":"#333"}}}
]},
{"data":{"name":"dd"},"transform":[{"fold":["CP","HC","SP"],"as":["col","v"]},{"lookup":"col","from":{"data":{"values":[{"col":"CP","xs":[0,122]},{"col":"HC","xs":[205,325]},{"col":"SP","xs":[408,530]}]},"key":"col","fields":["xs"]}},{"flatten":["xs"]},{"stack":"v","groupby":["xs"],"sort":[{"field":"i","order":"ascending"}],"as":["y0","y1"]}],
"encoding":{"x":{"field":"xs","type":"quantitative","scale":{"domain":[0,530],"range":[22,198],"nice":false},"axis":{"orient":"bottom","offset":-229,"values":[61,265,469],"labelExpr":"datum.value==61?'CP':datum.value==265?'HC':'SP'","labelAngle":-90,"labelFontSize":7,"title":null,"domain":false,"ticks":false,"labelColor":"#444"}},"y":{"field":"y0","type":"quantitative","scale":{"domain":[0,100],"range":[414,235],"nice":false,"clamp":true},"axis":{"orient":"left","offset":-18,"values":[0,25,50,75,100],"title":"Relative abundance(%)","titlePadding":1,"titleFontSize":8,"domainColor":"#aaa","domainWidth":2,"labelFontSize":5,"labelColor":"#888","labelPadding":1}},"y2":{"field":"y1"},"color":{"field":"i","type":"ordinal","legend":null,"scale":{"range":["#C9302F","#483D8B","#458B00","#EEC900","#8B2323","#DEB887","#8B8970","#458B74","#8B008B","#FF1493","#00BFFF","#EEAD0E","#8B4513","#8B864E","#FF6A6A","#8B5F65","#836FFF","#483D8B","#B0C4DE","#8B3A8B","#1E90FF","#D2691E","#7FFF00","#CDC0B0","#66CDAA","#97FFFF","#EE7621","#FF69B4","#F0E68C","#CD8C95","#FFEFD5","#7FFFD4","#CD5555","#009ACD","#32CD32","#FFB6C1","#008B45","#ADD8E6","#6C7B8B","#00CD66","#8B8682","#FFFF00","#CDB5CD","#CD4F39","#9ACD32","#00CED1","#CDCD00"]}}},
"layer":[{"mark":{"type":"area","orient":"vertical","opacity":0.6}},{"mark":{"type":"area","orient":"vertical"},"encoding":{"detail":{"field":"col"}}}]},
{"data":{"name":"dd"},"transform":[{"filter":"datum.i<30"}],"encoding":{"x":{"datum":0,"type":"quantitative","scale":{"domain":[0,1],"range":[203,256],"nice":false},"axis":null},"y":{"field":"i","type":"quantitative","scale":{"domain":[0,29],"range":[243,409],"nice":false},"axis":null}},"layer":[{"mark":{"type":"point","shape":"square","filled":true,"size":26,"opacity":1},"encoding":{"color":{"field":"i","type":"ordinal","legend":null,"scale":{"domain":[0,1,2,3,4,5,6,7,8,9,10,11,12,13,14,15,16,17,18,19,20,21,22,23,24,25,26,27,28,29],"range":["#C9302F","#483D8B","#458B00","#EEC900","#8B2323","#DEB887","#8B8970","#458B74","#8B008B","#FF1493","#00BFFF","#EEAD0E","#8B4513","#8B864E","#FF6A6A","#8B5F65","#836FFF","#483D8B","#B0C4DE","#8B3A8B","#1E90FF","#D2691E","#7FFF00","#CDC0B0","#66CDAA","#97FFFF","#EE7621","#FF69B4","#F0E68C","#CD8C95"]}}}},{"mark":{"type":"text","align":"left","dx":4,"fontSize":3.3,"color":"#444"},"encoding":{"text":{"field":"g"}}}]},
{"data":{"name":"dd"},"transform":[{"filter":"datum.i>=30"}],"encoding":{"x":{"datum":1,"type":"quantitative","scale":{"domain":[0,1],"range":[203,256],"nice":false},"axis":null},"y":{"field":"i","type":"quantitative","scale":{"domain":[30,46],"range":[243,334],"nice":false},"axis":null}},"layer":[{"mark":{"type":"point","shape":"square","filled":true,"size":26,"opacity":1},"encoding":{"color":{"field":"i","type":"ordinal","legend":null,"scale":{"domain":[30,31,32,33,34,35,36,37,38,39,40,41,42,43,44,45,46],"range":["#FFEFD5","#7FFFD4","#CD5555","#009ACD","#32CD32","#FFB6C1","#008B45","#ADD8E6","#6C7B8B","#00CD66","#8B8682","#FFFF00","#CDB5CD","#CD4F39","#9ACD32","#00CED1","#CDCD00"]}}}},{"mark":{"type":"text","align":"left","dx":4,"fontSize":3.3,"color":"#444"},"encoding":{"text":{"field":"g"}}}]},
{"data":{"values":[{"x":265,"y":103.6,"t":"genus.average."}]},"mark":{"type":"text","fontSize":7,"color":"#333"},"encoding":{"text":{"field":"t"},"x":{"field":"x","type":"quantitative","scale":{"domain":[0,530],"range":[22,198],"nice":false},"axis":null},"y":{"field":"y","type":"quantitative","scale":{"domain":[0,100],"range":[414,235],"nice":false},"axis":null}}},
{"data":{"values":[{"x":1,"x2":1,"y":10,"y2":30},{"x":1,"x2":10,"y":10,"y2":10},{"x":1,"x2":8,"y":30,"y2":30},{"x":10,"x2":10,"y":5,"y2":15},{"x":8,"x2":8,"y":25,"y2":35},{"x":10,"x2":22,"y":5,"y2":5},{"x":10,"x2":20,"y":15,"y2":15},{"x":8,"x2":18,"y":25,"y2":25},{"x":8,"x2":15,"y":35,"y2":35},{"x":22,"x2":22,"y":2.5,"y2":7.5},{"x":20,"x2":20,"y":12.5,"y2":17.5},{"x":18,"x2":18,"y":22.5,"y2":27.5},{"x":15,"x2":15,"y":32.5,"y2":37.5},{"x":22,"x2":35,"y":2.5,"y2":2.5},{"x":22,"x2":38,"y":7.5,"y2":7.5},{"x":20,"x2":33,"y":12.5,"y2":12.5},{"x":20,"x2":30,"y":17.5,"y2":17.5},{"x":18,"x2":34,"y":22.5,"y2":22.5},{"x":18,"x2":32,"y":27.5,"y2":27.5},{"x":15,"x2":36,"y":32.5,"y2":32.5},{"x":15,"x2":30,"y":37.5,"y2":37.5},{"x":35,"x2":35,"y":0.5,"y2":4.5},{"x":38,"x2":38,"y":5.5,"y2":9.5},{"x":33,"x2":33,"y":10.5,"y2":14.5},{"x":30,"x2":30,"y":15.5,"y2":19.5},{"x":34,"x2":34,"y":20.5,"y2":24.5},{"x":32,"x2":32,"y":25.5,"y2":29.5},{"x":36,"x2":36,"y":30.5,"y2":34.5},{"x":30,"x2":30,"y":35.5,"y2":39.5},{"x":35,"x2":60,"y":0.5,"y2":0.5},{"x":42,"x2":60,"y":1.5,"y2":1.5},{"x":35,"x2":60,"y":2.5,"y2":2.5},{"x":48,"x2":60,"y":3.5,"y2":3.5},{"x":35,"x2":60,"y":4.5,"y2":4.5},{"x":38,"x2":60,"y":5.5,"y2":5.5},{"x":46,"x2":60,"y":6.5,"y2":6.5},{"x":38,"x2":60,"y":7.5,"y2":7.5},{"x":50,"x2":60,"y":8.5,"y2":8.5},{"x":38,"x2":60,"y":9.5,"y2":9.5},{"x":33,"x2":60,"y":10.5,"y2":10.5},{"x":44,"x2":60,"y":11.5,"y2":11.5},{"x":33,"x2":60,"y":12.5,"y2":12.5},{"x":47,"x2":60,"y":13.5,"y2":13.5},{"x":33,"x2":60,"y":14.5,"y2":14.5},{"x":30,"x2":60,"y":15.5,"y2":15.5},{"x":43,"x2":60,"y":16.5,"y2":16.5},{"x":30,"x2":60,"y":17.5,"y2":17.5},{"x":46,"x2":60,"y":18.5,"y2":18.5},{"x":30,"x2":60,"y":19.5,"y2":19.5},{"x":34,"x2":60,"y":20.5,"y2":20.5},{"x":44,"x2":60,"y":21.5,"y2":21.5},{"x":34,"x2":60,"y":22.5,"y2":22.5},{"x":50,"x2":60,"y":23.5,"y2":23.5},{"x":34,"x2":60,"y":24.5,"y2":24.5},{"x":32,"x2":60,"y":25.5,"y2":25.5},{"x":45,"x2":60,"y":26.5,"y2":26.5},{"x":32,"x2":60,"y":27.5,"y2":27.5},{"x":48,"x2":60,"y":28.5,"y2":28.5},{"x":32,"x2":60,"y":29.5,"y2":29.5},{"x":36,"x2":60,"y":30.5,"y2":30.5},{"x":46,"x2":60,"y":31.5,"y2":31.5},{"x":36,"x2":60,"y":32.5,"y2":32.5},{"x":50,"x2":60,"y":33.5,"y2":33.5},{"x":36,"x2":60,"y":34.5,"y2":34.5},{"x":30,"x2":60,"y":35.5,"y2":35.5},{"x":42,"x2":60,"y":36.5,"y2":36.5},{"x":30,"x2":60,"y":37.5,"y2":37.5},{"x":47,"x2":60,"y":38.5,"y2":38.5},{"x":30,"x2":60,"y":39.5,"y2":39.5}]},"mark":{"type":"rule","color":"#aaa","strokeWidth":0.5},"encoding":{"x":{"field":"x","type":"quantitative","scale":{"domain":[0,60],"range":[322,382],"nice":false},"axis":null},"y":{"field":"y","type":"quantitative","scale":{"domain":[0,40],"range":[234,396],"nice":false},"axis":null},"x2":{"field":"x2"},"y2":{"field":"y2"}}},
{"encoding":{"x":{"field":"x","type":"quantitative","scale":{"domain":[0,348],"range":[384,732],"nice":false},"axis":null},"y":{"field":"y","type":"quantitative","scale":{"domain":[0,1],"range":[233.3,230],"nice":false},"axis":null},"color":{"field":"g","type":"nominal","scale":{"domain":["CP","HC","SP"],"range":["#C9353B","#483C90","#3F8A00"]},"legend":null}},"layer":[{"data":{"values":[{"g":"CP","x":0,"x2":97,"y":0,"y2":1},{"g":"HC","x":97,"x2":298,"y":0,"y2":1},{"g":"SP","x":298,"x2":348,"y":0,"y2":1}]},"mark":{"type":"rect"},"encoding":{"x2":{"field":"x2"},"y2":{"field":"y2"}}},{"data":{"values":[{"g":"CP","x":-10,"y":3.4},{"g":"HC","x":-10,"y":1.9},{"g":"SP","x":-10,"y":0.7}]},"mark":{"type":"point","shape":"square","filled":true,"size":3,"opacity":1}}]},
{"data":{"name":"heat"},"transform":[{"flatten":["v"]},{"window":[{"op":"row_number","as":"c"}],"groupby":["r"]}],"mark":{"type":"rect"},"encoding":{"x":{"field":"c","type":"ordinal","scale":{"range":[384,732],"paddingInner":0,"paddingOuter":0},"axis":null},"y":{"field":"r","type":"ordinal","scale":{"range":[234,396],"paddingInner":0,"paddingOuter":0},"axis":null},"color":{"field":"v","type":"quantitative","scale":{"domain":[0,1,2,3,4],"range":["#4169E1","#2E8B22","#EFD97A","#FFA500","#FF4500"]},"legend":{"orient":"none","legendX":384,"legendY":405,"direction":"horizontal","gradientLength":348,"gradientThickness":12,"values":[0,1,2,3,4],"labelExpr":"datum.value==0?'0':datum.value==1?'0':datum.value==2?'0.09':datum.value==3?'2.75':'94.04'","title":"Relative abundance of community (%)","titleOrient":"bottom","titleAnchor":"middle","titleFontSize":6.5,"titleFontWeight":"normal","titleColor":"#333","titlePadding":1,"labelFontSize":6,"labelColor":"#444","labelOverlap":false}}}},
{"encoding":{"x":{"field":"x","type":"quantitative","scale":{"domain":[0,56],"range":[733,789],"nice":false},"axis":null},"y":{"field":"y","type":"quantitative","scale":{"domain":[0,40],"range":[234,396],"nice":false},"axis":null}},"layer":[{"data":{"values":[{"x":0,"x2":12,"y":0,"y2":40}]},"mark":{"type":"rect","color":"#ddd"},"encoding":{"x2":{"field":"x2"},"y2":{"field":"y2"}}},{"data":{"values":[{"x":14,"y":1,"t":"[Capnocytophaga]"},{"x":14,"y":3,"t":"[Porphyromonas]"},{"x":14,"y":5,"t":"Candidate_division_TM7_norank"},{"x":14,"y":7,"t":"[Capnocytophaga]"},{"x":14,"y":10,"t":"[Prevotella]"},{"x":14,"y":12,"t":"[Porphyromonas]"},{"x":14,"y":14,"t":"[Rothia]"},{"x":14,"y":16,"t":"[Actinomyces]"},{"x":14,"y":19,"t":"[Actinomyces]"},{"x":14,"y":21,"t":"Family_XIII_incertae_sedis"},{"x":14,"y":24,"t":"[Prevotella]"},{"x":14,"y":26,"t":"[Fusobacterium]"},{"x":14,"y":29,"t":"[Porphyromonas]"},{"x":14,"y":30,"t":"Prevotella"},{"x":14,"y":31,"t":"Candidate_division_TM7_norank"},{"x":14,"y":32,"t":"Candidate_division_SR1_norank"},{"x":14,"y":33.5,"t":"[Fusobacterium]"},{"x":14,"y":35,"t":"[Haemophilus]"},{"x":14,"y":37,"t":"[Rothia]"},{"x":14,"y":38.5,"t":"Family_XIII_incertae_sedis"},{"x":14,"y":39.5,"t":"Campylobacter"}]},"mark":{"type":"text","align":"left","fontSize":2.7,"color":"#444"},"encoding":{"text":{"field":"t"}}}]},
{"data":{"values":[{"x":0,"x2":348,"y":0,"y2":1}]},"mark":{"type":"rect","color":"#bbb"},"encoding":{"x":{"field":"x","type":"quantitative","scale":{"domain":[0,348],"range":[384,732],"nice":false},"axis":null},"x2":{"field":"x2"},"y":{"field":"y","type":"quantitative","scale":{"domain":[0,1],"range":[403,397],"nice":false},"axis":null},"y2":{"field":"y2"}}},
{"encoding":{"x":{"field":"x","type":"quantitative","scale":{"domain":[0.65,5.45],"range":[22,182],"nice":false},"axis":null},"y":{"field":"y","type":"quantitative","scale":{"domain":[0,4.55],"range":[612.7,461],"nice":false},"axis":null}},
"layer":[
{"data":{"values":[{"x":1.035,"y":0,"x2":2.745,"y2":1.36},{"x":1.42,"y":0,"x2":3.13,"y2":1.36},{"x":1.805,"y":0,"x2":3.515,"y2":1.36},{"x":2.19,"y":0,"x2":3.9,"y2":1.36},{"x":2.575,"y":0,"x2":4.285,"y2":1.36},{"x":2.96,"y":0,"x2":4.67,"y2":1.36},{"x":3.345,"y":0,"x2":5.055,"y2":1.36},{"x":0.864,"y":0.17,"x2":3.944,"y2":0.17},{"x":1.078,"y":0.34,"x2":4.158,"y2":0.34},{"x":1.292,"y":0.51,"x2":4.372,"y2":0.51},{"x":1.506,"y":0.68,"x2":4.586,"y2":0.68},{"x":1.72,"y":0.85,"x2":4.8,"y2":0.85},{"x":1.934,"y":1.02,"x2":5.014,"y2":1.02},{"x":2.148,"y":1.19,"x2":5.228,"y2":1.19}]},"mark":{"type":"rule","color":"#ccc","strokeWidth":0.5},"encoding":{"x2":{"field":"x2"},"y2":{"field":"y2"}}},
{"data":{"values":[{"x":0.65,"y":0,"x2":3.73,"y2":0},{"x":3.73,"y":0,"x2":3.73,"y2":3.05},{"x":3.73,"y":3.05,"x2":0.65,"y2":3.05},{"x":0.65,"y":3.05,"x2":0.65,"y2":0},{"x":2.36,"y":1.36,"x2":5.45,"y2":1.36},{"x":5.45,"y":1.36,"x2":5.45,"y2":4.4},{"x":5.45,"y":4.4,"x2":2.36,"y2":4.4},{"x":2.36,"y":4.4,"x2":2.36,"y2":1.36},{"x":0.65,"y":0,"x2":2.36,"y2":1.36},{"x":3.73,"y":0,"x2":5.45,"y2":1.36},{"x":0.65,"y":3.05,"x2":2.36,"y2":4.4},{"x":3.73,"y":3.05,"x2":5.45,"y2":4.4}]},"mark":{"type":"rule","color":"#666","strokeWidth":0.7},"encoding":{"x2":{"field":"x2"},"y2":{"field":"y2"}}},
{"data":{"values":[{"x":4.61,"x2":5.95,"y":-0.3,"y2":-0.79}]},"mark":{"type":"rect","fill":"white","stroke":"#666","strokeWidth":0.8},"encoding":{"x2":{"field":"x2"},"y2":{"field":"y2"}}},
{"data":{"values":[{"g":"CP","x":1.6,"y":1.71},{"g":"CP","x":1.65,"y":1.25},{"g":"CP","x":1.85,"y":1.48},{"g":"CP","x":2.04,"y":1.79},{"g":"CP","x":2.2,"y":2.03},{"g":"CP","x":2.32,"y":1.74},{"g":"CP","x":2.3,"y":1.97},{"g":"CP","x":2.22,"y":2.21},{"g":"CP","x":2.35,"y":2.13},{"g":"CP","x":2.38,"y":2.18},{"g":"CP","x":2.43,"y":1.96},{"g":"CP","x":2.44,"y":1.03},{"g":"CP","x":2.37,"y":2.82},{"g":"CP","x":2.45,"y":2.94},{"g":"CP","x":2.52,"y":2.53},{"g":"CP","x":2.55,"y":2.46},{"g":"CP","x":2.5,"y":2.28},{"g":"CP","x":2.68,"y":2.48},{"g":"CP","x":2.7,"y":2.88},{"g":"CP","x":2.78,"y":2.71},{"g":"CP","x":2.83,"y":3.09},{"g":"CP","x":3.03,"y":3},{"g":"CP","x":3.1,"y":2.78},{"g":"CP","x":3.25,"y":2.96},{"g":"CP","x":3.55,"y":2.8},{"g":"CP","x":3.63,"y":3.16},{"g":"CP","x":3.65,"y":3.08},{"g":"CP","x":4.11,"y":2.85},{"g":"CP","x":3.92,"y":2.42},{"g":"CP","x":4.25,"y":2.31},{"g":"CP","x":4.2,"y":2.13},{"g":"CP","x":4,"y":2.05},{"g":"CP","x":4.18,"y":1.8},{"g":"CP","x":3.95,"y":1.81},{"g":"CP","x":3.97,"y":1.53},{"g":"CP","x":3.77,"y":1.55},{"g":"CP","x":3.78,"y":1.3},{"g":"CP","x":3.62,"y":1.51},{"g":"CP","x":3.22,"y":1.14},{"g":"CP","x":3.27,"y":1.88},{"g":"CP","x":3.4,"y":1.93},{"g":"CP","x":3.42,"y":2.07},{"g":"CP","x":3.52,"y":2.13},{"g":"CP","x":3.58,"y":2.22},{"g":"CP","x":3.45,"y":2.23},{"g":"CP","x":3.33,"y":2.23},{"g":"CP","x":3.27,"y":2.26},{"g":"CP","x":3.1,"y":2.21},{"g":"CP","x":2.83,"y":2.1},{"g":"CP","x":2.65,"y":2.28},{"g":"CP","x":2.72,"y":2.18},{"g":"CP","x":2.85,"y":1.68},{"g":"CP","x":2.8,"y":1.68},{"g":"CP","x":3,"y":1.71},{"g":"CP","x":3.08,"y":1.66},{"g":"CP","x":3.05,"y":2.43},{"g":"CP","x":3,"y":2.71},{"g":"CP","x":3.4,"y":2.56},{"g":"CP","x":3.85,"y":2.01},{"g":"CP","x":4.15,"y":2.03},{"g":"CP","x":4.05,"y":2.03},{"g":"SP","x":1.72,"y":1.96},{"g":"SP","x":1.9,"y":2.08},{"g":"SP","x":1.94,"y":2.16},{"g":"SP","x":2.06,"y":2.06},{"g":"SP","x":2.08,"y":1.53},{"g":"SP","x":1.9,"y":1.42},{"g":"SP","x":1.74,"y":1.21},{"g":"SP","x":2.4,"y":1.23},{"g":"SP","x":2.28,"y":2.33},{"g":"SP","x":2.43,"y":1.96},{"g":"SP","x":2.62,"y":2.71},{"g":"SP","x":2.58,"y":2.64},{"g":"SP","x":2.78,"y":2.43},{"g":"SP","x":2.92,"y":2.56},{"g":"SP","x":2.88,"y":2.48},{"g":"SP","x":3.08,"y":2.96},{"g":"SP","x":3.1,"y":2.83},{"g":"SP","x":3.42,"y":2.9},{"g":"SP","x":3.56,"y":2.8},{"g":"SP","x":3.78,"y":2.89},{"g":"SP","x":3.71,"y":2.68},{"g":"SP","x":3.38,"y":2.5},{"g":"SP","x":4.03,"y":2.47},{"g":"SP","x":4.2,"y":2.49},{"g":"SP","x":4.06,"y":2.17},{"g":"SP","x":4.1,"y":2},{"g":"SP","x":3.77,"y":1.98},{"g":"SP","x":3.83,"y":1.91},{"g":"SP","x":3.72,"y":1.85},{"g":"SP","x":3.68,"y":1.72},{"g":"SP","x":3.48,"y":1.95},{"g":"SP","x":3.42,"y":2.28},{"g":"SP","x":3.07,"y":2.28},{"g":"SP","x":2.97,"y":1.83},{"g":"SP","x":2.83,"y":1.67},{"g":"SP","x":3.78,"y":1.58},{"g":"CP","x":4.79,"y":-0.54},{"g":"SP","x":5.4,"y":-0.54}]},"mark":{"type":"point","filled":true,"size":10,"opacity":1},"encoding":{"color":{"field":"g","type":"nominal","scale":{"domain":["CP","SP"],"range":["#D7282F","#4A3F97"]},"legend":null},"shape":{"field":"g","type":"nominal","scale":{"domain":["CP","SP"],"range":["circle","square"]},"legend":null}}},
{"data":{"values":[{"x":0.65,"y":-0.19,"t":"−2.0"},{"x":1.035,"y":-0.19,"t":"−1.5"},{"x":1.42,"y":-0.19,"t":"−1.0"},{"x":1.805,"y":-0.19,"t":"−0.5"},{"x":2.19,"y":-0.19,"t":"0.0"},{"x":2.575,"y":-0.19,"t":"0.5"},{"x":2.96,"y":-0.19,"t":"1.0"},{"x":3.345,"y":-0.19,"t":"1.5"},{"x":3.73,"y":-0.19,"t":"2.0"},{"x":4.13,"y":0.01,"t":"−2.0"},{"x":4.28,"y":0.18,"t":"−1.5"},{"x":4.52,"y":0.36,"t":"−1.0"},{"x":4.7,"y":0.53,"t":"−0.5"},{"x":4.94,"y":0.69,"t":"0.0"},{"x":5.17,"y":0.86,"t":"0.5"},{"x":5.38,"y":1.03,"t":"1.0"},{"x":5.58,"y":1.2,"t":"1.5"},{"x":5.8,"y":1.37,"t":"2.0"}]},"mark":{"type":"text","fontSize":5.5,"color":"#444"},"encoding":{"text":{"field":"t"}}},
{"data":{"values":[{"x":2.2,"y":-0.64,"t":"PC1_0.28%"},{"x":5.08,"y":-0.54,"t":"CP"},{"x":5.7,"y":-0.54,"t":"SP"}]},"mark":{"type":"text","fontSize":6.5,"color":"#444"},"encoding":{"text":{"field":"t"}}},
{"data":{"values":[{"x":0.45,"y":3.05,"t":"2.0"},{"x":0.45,"y":2.67,"t":"1.5"},{"x":0.45,"y":2.29,"t":"1.0"},{"x":0.45,"y":1.91,"t":"0.5"},{"x":0.45,"y":1.53,"t":"0.0"},{"x":0.45,"y":1.15,"t":"−0.5"},{"x":0.45,"y":0.76,"t":"−1.0"},{"x":0.45,"y":0.38,"t":"−1.5"},{"x":0.45,"y":0,"t":"−2.0"}]},"mark":{"type":"text","angle":270,"fontSize":5.5,"color":"#444"},"encoding":{"text":{"field":"t"}}},
{"data":{"values":[{"x":0.1,"y":1.52,"t":"PC3_0.13%"},{"x":6.12,"y":1.38,"t":"PC2_0.17%"}]},"mark":{"type":"text","angle":270,"fontSize":6.5,"color":"#444"},"encoding":{"text":{"field":"t"}}}
]},
{"encoding":{"x":{"field":"x","type":"quantitative","scale":{"domain":[-0.09,4.83],"range":[247,411],"nice":false},"axis":null},"y":{"field":"y","type":"quantitative","scale":{"domain":[0,4.55],"range":[612.7,461],"nice":false},"axis":null}},
"layer":[
{"data":{"values":[{"x":0.72,"y":0,"x2":2.47,"y2":1.36},{"x":1.52,"y":0,"x2":3.27,"y2":1.36},{"x":2.3,"y":0,"x2":4.05,"y2":1.36},{"x":0.35,"y":0.34,"x2":3.52,"y2":0.34},{"x":0.79,"y":0.68,"x2":3.96,"y2":0.68},{"x":1.22,"y":1.02,"x2":4.39,"y2":1.02}]},"mark":{"type":"rule","color":"#ccc","strokeWidth":0.5},"encoding":{"x2":{"field":"x2"},"y2":{"field":"y2"}}},
{"data":{"values":[{"x":-0.09,"y":0,"x2":3.08,"y2":0},{"x":3.08,"y":0,"x2":3.08,"y2":3.05},{"x":3.08,"y":3.05,"x2":-0.09,"y2":3.05},{"x":-0.09,"y":3.05,"x2":-0.09,"y2":0},{"x":1.66,"y":1.36,"x2":4.83,"y2":1.36},{"x":4.83,"y":1.36,"x2":4.83,"y2":4.4},{"x":4.83,"y":4.4,"x2":1.66,"y2":4.4},{"x":1.66,"y":4.4,"x2":1.66,"y2":1.36},{"x":-0.09,"y":0,"x2":1.66,"y2":1.36},{"x":3.08,"y":0,"x2":4.83,"y2":1.36},{"x":-0.09,"y":3.05,"x2":1.66,"y2":4.4},{"x":3.08,"y":3.05,"x2":4.83,"y2":4.4}]},"mark":{"type":"rule","color":"#666","strokeWidth":0.7},"encoding":{"x2":{"field":"x2"},"y2":{"field":"y2"}}},
{"data":{"values":[{"x":3.8,"x2":5.37,"y":-0.3,"y2":-0.79}]},"mark":{"type":"rect","fill":"white","stroke":"#666","strokeWidth":0.8},"encoding":{"x2":{"field":"x2"},"y2":{"field":"y2"}}},
{"data":{"values":[{"g":"CPR","x":0.76,"y":1.3},{"g":"CPR","x":1.47,"y":1.9},{"g":"CPR","x":1.6,"y":1.87},{"g":"CPR","x":2.05,"y":2.01},{"g":"CPR","x":1.67,"y":2.13},{"g":"CPR","x":1.7,"y":2.23},{"g":"CPR","x":2.03,"y":2.36},{"g":"CPR","x":2.18,"y":2.44},{"g":"CPR","x":2.32,"y":2.34},{"g":"CPR","x":2.4,"y":2.35},{"g":"CPR","x":2.35,"y":2.23},{"g":"CPR","x":2.7,"y":2.4},{"g":"CPR","x":2.9,"y":2.35},{"g":"CPR","x":2.96,"y":2.2},{"g":"CPR","x":2.9,"y":2.28},{"g":"SPR","x":1.63,"y":2.31},{"g":"SPR","x":1.78,"y":2.15},{"g":"SPR","x":1.85,"y":2.13},{"g":"SPR","x":1.8,"y":2.03},{"g":"SPR","x":1.75,"y":2},{"g":"SPR","x":1.95,"y":2.33},{"g":"SPR","x":2,"y":2.25},{"g":"SPR","x":2.05,"y":2.18},{"g":"SPR","x":2.08,"y":2.52},{"g":"SPR","x":2.25,"y":2.28},{"g":"SPR","x":2.45,"y":2.23},{"g":"SPR","x":2.4,"y":2.25},{"g":"SPR","x":2.5,"y":2.41},{"g":"SPR","x":2.63,"y":2.44},{"g":"SPR","x":2.73,"y":2.34},{"g":"SPR","x":2.82,"y":2.42},{"g":"SPR","x":2.9,"y":2.3},{"g":"SPR","x":2.95,"y":2.25},{"g":"SPR","x":3,"y":2.18},{"g":"SPR","x":3.05,"y":2.1},{"g":"SPR","x":3.05,"y":2.03},{"g":"SPR","x":3,"y":1.96},{"g":"SPR","x":2.96,"y":1.9},{"g":"SPR","x":2.9,"y":1.89},{"g":"SPR","x":2.27,"y":1.86},{"g":"SPR","x":2.98,"y":2.18},{"g":"SPR","x":1.9,"y":2.08},{"g":"CPR","x":3.97,"y":-0.54},{"g":"SPR","x":4.7,"y":-0.54}]},"mark":{"type":"point","filled":true,"size":10,"opacity":1},"encoding":{"color":{"field":"g","type":"nominal","scale":{"domain":["CPR","SPR"],"range":["#D7282F","#4A3F97"]},"legend":null},"shape":{"field":"g","type":"nominal","scale":{"domain":["CPR","SPR"],"range":["circle","square"]},"legend":null}}},
{"data":{"values":[{"x":-0.09,"y":-0.19,"t":"−4"},{"x":0.72,"y":-0.19,"t":"−2"},{"x":1.52,"y":-0.19,"t":"0"},{"x":2.3,"y":-0.19,"t":"2"},{"x":3.08,"y":-0.19,"t":"4"},{"x":3.38,"y":0,"t":"−4"},{"x":3.82,"y":0.36,"t":"−2"},{"x":4.27,"y":0.68,"t":"0"},{"x":4.7,"y":1.03,"t":"2"},{"x":5.13,"y":1.37,"t":"4"}]},"mark":{"type":"text","fontSize":5.5,"color":"#444"},"encoding":{"text":{"field":"t"}}},
{"data":{"values":[{"x":1.5,"y":-0.64,"t":"PC1_0.6%"},{"x":4.33,"y":-0.54,"t":"CPR"},{"x":5.07,"y":-0.54,"t":"SPR"}]},"mark":{"type":"text","fontSize":6.5,"color":"#444"},"encoding":{"text":{"field":"t"}}},
{"data":{"values":[{"x":-0.28,"y":3.05,"t":"4"},{"x":-0.28,"y":2.28,"t":"2"},{"x":-0.28,"y":1.52,"t":"0"},{"x":-0.28,"y":0.76,"t":"−2"},{"x":-0.28,"y":0,"t":"−4"}]},"mark":{"type":"text","angle":270,"fontSize":5.5,"color":"#444"},"encoding":{"text":{"field":"t"}}},
{"data":{"values":[{"x":-0.65,"y":1.52,"t":"PC3_0.05%"},{"x":5.38,"y":1.38,"t":"PC2_0.24%"}]},"mark":{"type":"text","angle":270,"fontSize":6.5,"color":"#444"},"encoding":{"text":{"field":"t"}}}
]},
{"data":{"name":"hh"},"transform":[{"fold":["CP","CPR","SP","SPR"],"as":["col","v"]},{"lookup":"col","from":{"data":{"values":[{"col":"CP","xs":[0,89]},{"col":"CPR","xs":[147,236]},{"col":"SP","xs":[295,383]},{"col":"SPR","xs":[442,529]}]},"key":"col","fields":["xs"]}},{"flatten":["xs"]},{"stack":"v","groupby":["xs"],"sort":[{"field":"i","order":"ascending"}],"as":["y0","y1"]}],
"encoding":{"x":{"field":"xs","type":"quantitative","scale":{"domain":[0,529],"range":[475,651],"nice":false},"axis":{"orient":"bottom","offset":-14,"values":[44,191,339,485],"labelExpr":"datum.value==44?'CP':datum.value==191?'CPR':datum.value==339?'SP':'SPR'","labelAngle":-90,"labelFontSize":6.3,"labelPadding":0,"tickSize":0,"title":null,"domain":false,"ticks":false,"labelColor":"#444"}},"y":{"field":"y0","type":"quantitative","scale":{"domain":[0,100],"range":[629.3,461],"nice":false,"clamp":true},"axis":{"orient":"left","offset":-471,"values":[0,25,50,75,100],"title":"Relative abundance(%)","titlePadding":1,"titleFontSize":8,"domainColor":"#aaa","domainWidth":2,"labelFontSize":5.5,"labelColor":"#888","labelPadding":1}},"y2":{"field":"y1"},"color":{"field":"i","type":"ordinal","legend":null,"scale":{"range":["#C9302F","#483D8B","#458B00","#EEC900","#8B2323","#DEB887","#8B8970","#458B74","#8B008B","#FF1493","#00BFFF","#EEAD0E","#8B4513","#8B864E","#FF6A6A","#8B5F65","#836FFF","#483D8B","#B0C4DE","#8B3A8B","#1E90FF","#D2691E","#7FFF00","#CDC0B0","#66CDAA","#97FFFF","#EE7621","#FF69B4","#F0E68C","#CD8C95","#FFEFD5","#7FFFD4","#CD5555","#009ACD","#32CD32","#FFB6C1","#008B45","#ADD8E6","#6C7B8B","#00CD66","#8B8682"]}}},
"layer":[{"mark":{"type":"area","orient":"vertical","opacity":0.6}},{"mark":{"type":"area","orient":"vertical"},"encoding":{"detail":{"field":"col"}}}]},
{"data":{"name":"hh"},"transform":[{"filter":"datum.i<30"}],"encoding":{"x":{"datum":0,"type":"quantitative","scale":{"domain":[0,1],"range":[660,727],"nice":false},"axis":null},"y":{"field":"i","type":"quantitative","scale":{"domain":[0,29],"range":[467,625],"nice":false},"axis":null}},"layer":[{"mark":{"type":"point","shape":"square","filled":true,"size":24,"opacity":1},"encoding":{"color":{"field":"i","type":"ordinal","legend":null,"scale":{"domain":[0,1,2,3,4,5,6,7,8,9,10,11,12,13,14,15,16,17,18,19,20,21,22,23,24,25,26,27,28,29],"range":["#C9302F","#483D8B","#458B00","#EEC900","#8B2323","#DEB887","#8B8970","#458B74","#8B008B","#FF1493","#00BFFF","#EEAD0E","#8B4513","#8B864E","#FF6A6A","#8B5F65","#836FFF","#483D8B","#B0C4DE","#8B3A8B","#1E90FF","#D2691E","#7FFF00","#CDC0B0","#66CDAA","#97FFFF","#EE7621","#FF69B4","#F0E68C","#CD8C95"]}}}},{"mark":{"type":"text","align":"left","dx":4,"fontSize":4,"color":"#333"},"encoding":{"text":{"field":"g"}}}]},
{"data":{"name":"hh"},"transform":[{"filter":"datum.i>=30"}],"encoding":{"x":{"datum":1,"type":"quantitative","scale":{"domain":[0,1],"range":[660,727],"nice":false},"axis":null},"y":{"field":"i","type":"quantitative","scale":{"domain":[30,40],"range":[467,521.5],"nice":false},"axis":null}},"layer":[{"mark":{"type":"point","shape":"square","filled":true,"size":24,"opacity":1},"encoding":{"color":{"field":"i","type":"ordinal","legend":null,"scale":{"domain":[30,31,32,33,34,35,36,37,38,39,40],"range":["#FFEFD5","#7FFFD4","#CD5555","#009ACD","#32CD32","#FFB6C1","#008B45","#ADD8E6","#6C7B8B","#00CD66","#8B8682"]}}}},{"mark":{"type":"text","align":"left","dx":4,"fontSize":4,"color":"#333"},"encoding":{"text":{"field":"g"}}}]},
{"data":{"values":[{"x":264,"y":103.6,"t":"genus.average."}]},"mark":{"type":"text","fontSize":7,"color":"#333"},"encoding":{"text":{"field":"t"},"x":{"field":"x","type":"quantitative","scale":{"domain":[0,529],"range":[475,651],"nice":false},"axis":null},"y":{"field":"y","type":"quantitative","scale":{"domain":[0,100],"range":[629.3,461],"nice":false},"axis":null}}},
{"data":{"values":[{"x":0.1,"y":1.1,"t":"A"},{"x":35.1,"y":1.2,"t":"B"},{"x":70,"y":1.1,"t":"C"},{"x":0.1,"y":35,"t":"D"},{"x":40.8,"y":35.8,"t":"E"},{"x":0.1,"y":70,"t":"F"},{"x":28.7,"y":70,"t":"G"},{"x":57,"y":70,"t":"H"}]},"mark":{"type":"text","align":"left","fontSize":13,"color":"#111"},"encoding":{"text":{"field":"t"},"x":{"field":"x","type":"quantitative","scale":{"domain":[0,100],"range":[0,789],"nice":false},"axis":null},"y":{"field":"y","type":"quantitative","scale":{"domain":[0,100],"range":[0,643],"nice":false},"axis":null}}}
]}
